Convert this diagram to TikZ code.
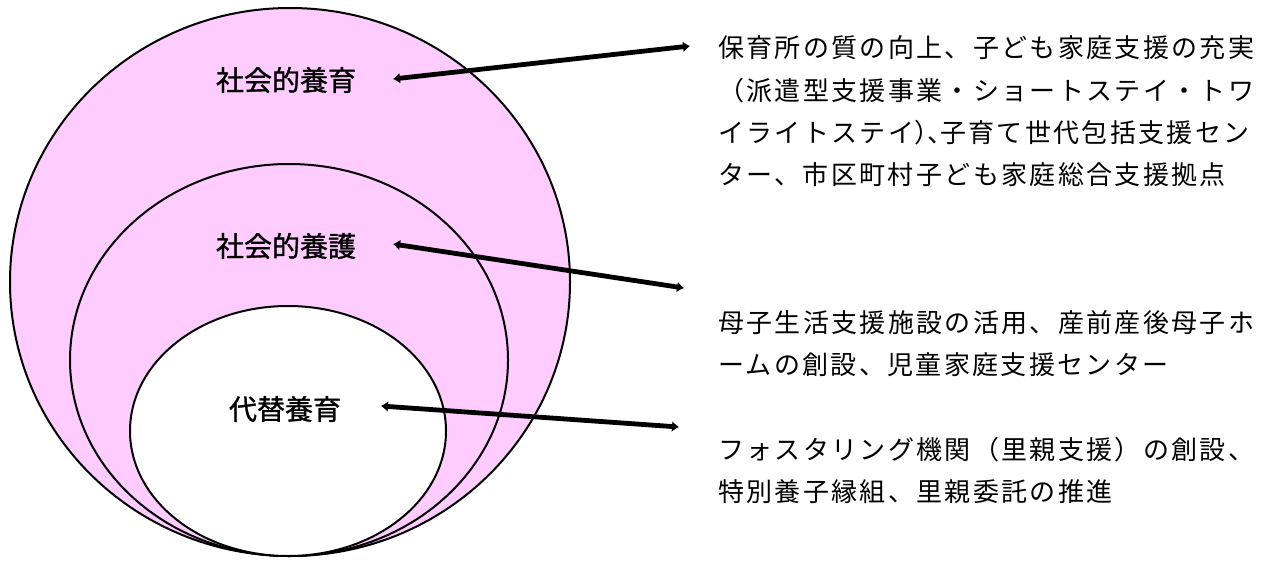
\documentclass[tikz,border=0pt]{standalone}
\usepackage{fontspec}
\usetikzlibrary{arrows.meta}
\newfontfamily\jplabel[FakeBold=1.2]{Noto Sans CJK JP}
\newfontfamily\jptext[LetterSpace=9]{Noto Sans CJK JP}
\definecolor{pinkfill}{HTML}{FFCCFF}
\newcommand{\hw}[1]{\makebox[0.5em][l]{#1}}
\tikzset{
  ring/.style={draw=black, line width=2pt},
  lab/.style={font=\jplabel\fontsize{28}{32}\selectfont, inner sep=0pt, anchor=center},
  txtline/.style={font=\jptext\fontsize{26}{30}\selectfont, inner sep=0pt, anchor=base west},
  conn/.style={line width=4.8pt, {Latex[length=7pt,width=11pt]}-{Latex[length=7pt,width=11pt]}}
}
\begin{document}
\begin{tikzpicture}[x=1pt,y=-1pt]
\useasboundingbox (0,0) rectangle (1273,562);
% ellipses
\path[ring, fill=pinkfill] (290,282) ellipse [x radius=280, y radius=274];
\path[ring, fill=pinkfill] (289,360) ellipse [x radius=219, y radius=196];
\path[ring, fill=white] (288,431) ellipse [x radius=158, y radius=125];
% labels
\node[lab] (l1) at (286,80) {社会的養育};
\node[lab] (l2) at (286,246) {社会的養護};
\node[lab] (l3) at (285,409) {代替養育};
% right texts
\node[txtline] (p1a) at (718,57) {保育所の質の向上、子ども家庭支援の充実};
\node[txtline] (p1b) at (718,100) {（派遣型支援事業・ショートステイ・トワ};
\node[txtline] (p1c) at (718,142) {イライトステイ\hw{）}\hw{、}子育て世代包括支援セン};
\node[txtline] (p1d) at (718,184) {ター、市区町村子ども家庭総合支援拠点};
\node[txtline] (p2a) at (718,332) {母子生活支援施設の活用、産前産後母子ホ};
\node[txtline] (p2b) at (718,374) {ームの創設、児童家庭支援センター};
\node[txtline] (p3a) at (718,459) {フォスタリング機関（里親支援）の創設、};
\node[txtline] (p3b) at (718,501) {特別養子縁組、里親委託の推進};
% connector ends
\coordinate (a1) at (393,79);
\coordinate (b1) at (690,46);
\coordinate (a2) at (393,244);
\coordinate (b2) at (684,288);
\coordinate (a3) at (381,406);
\coordinate (b3) at (679,427);
\draw[conn] (a1) -- (b1);
\draw[conn] (a2) -- (b2);
\draw[conn] (a3) -- (b3);
\end{tikzpicture}
\end{document}
